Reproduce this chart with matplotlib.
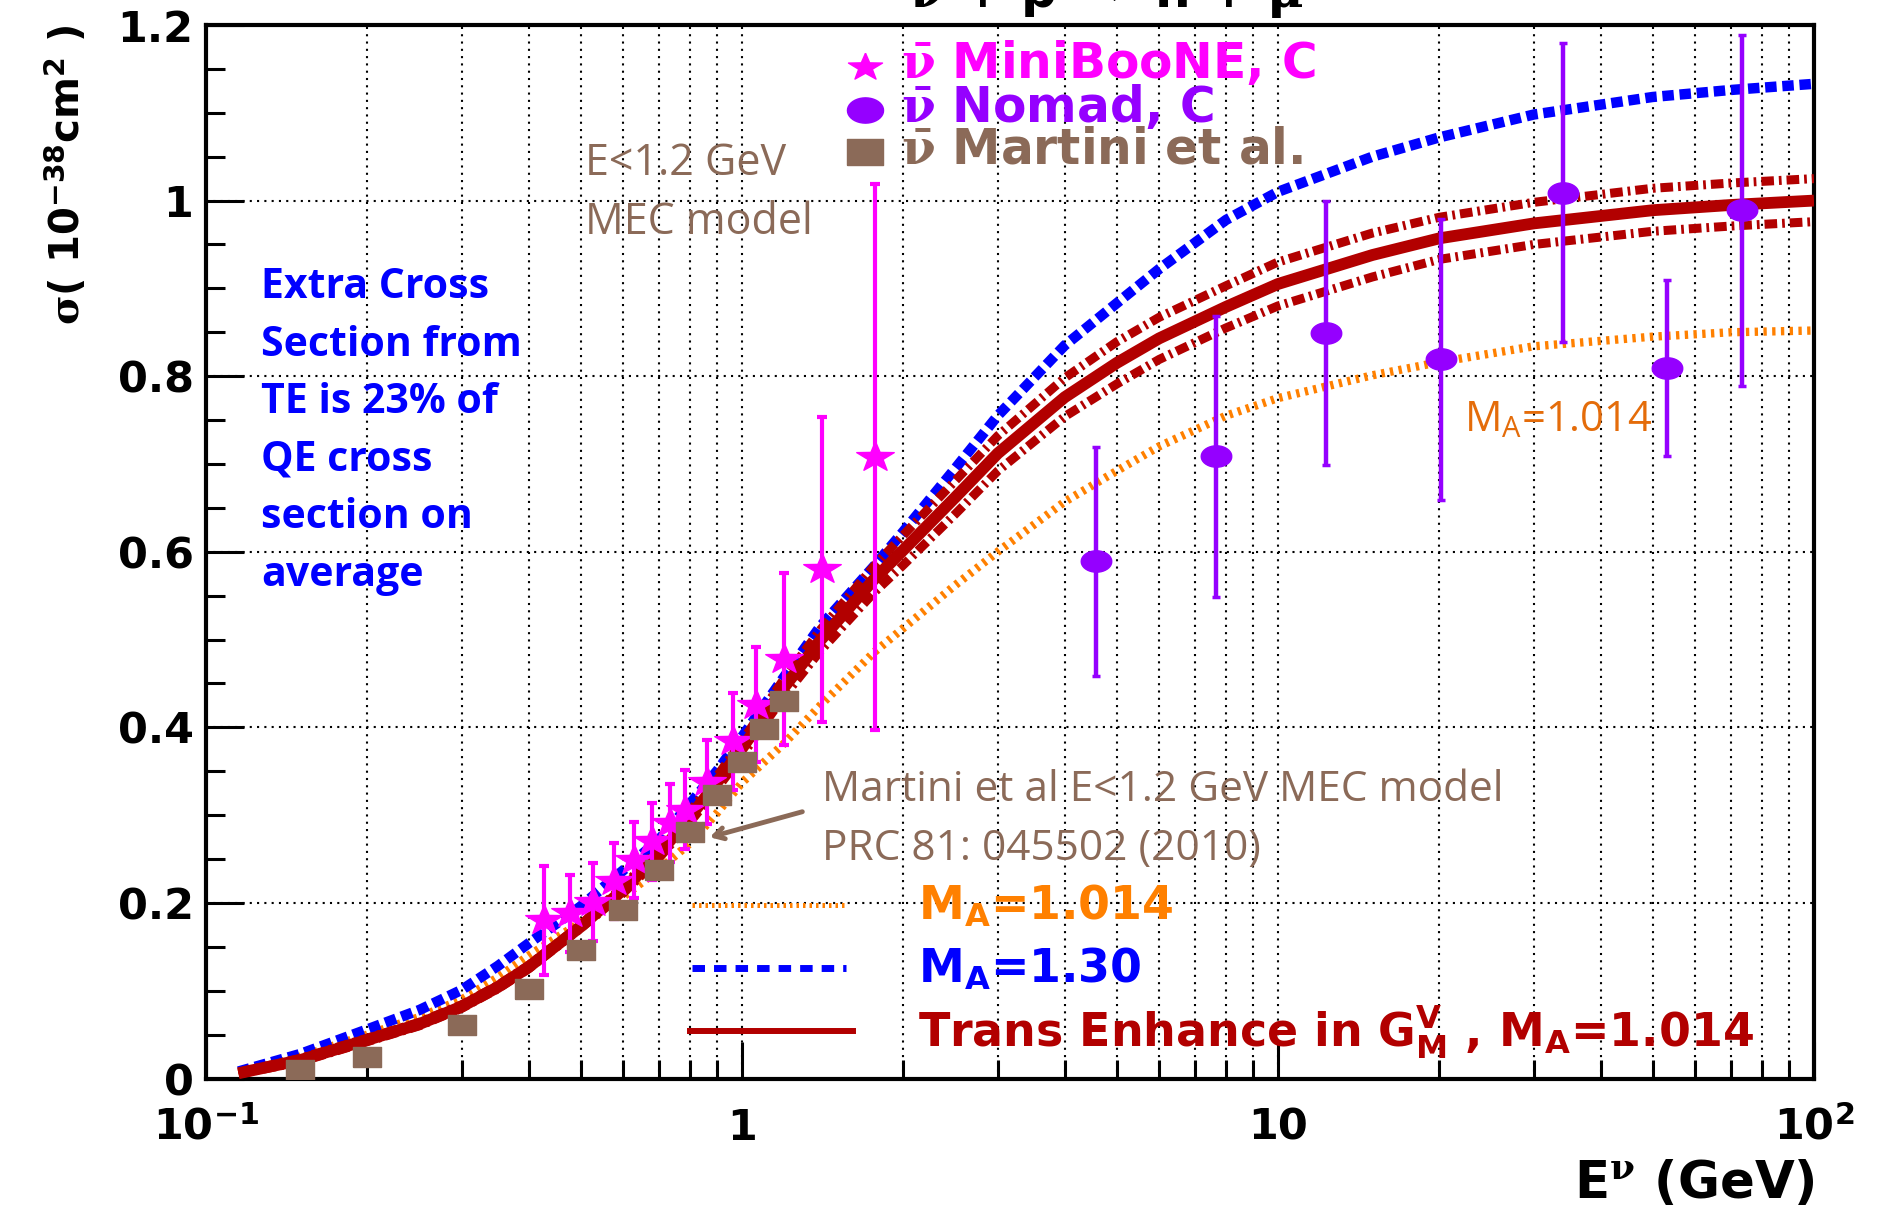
import numpy as np
import matplotlib.pyplot as plt
from matplotlib.lines import Line2D
from matplotlib.ticker import MultipleLocator, NullFormatter, LogLocator

W, H = 1879, 1207

# theory curves
E_curve = [0.115, 0.15, 0.2, 0.25, 0.3, 0.35, 0.4, 0.5, 0.6, 0.7,
           0.8, 0.9, 1.0, 1.2, 1.4, 1.76, 2.0, 2.5, 3.0, 4.0,
           5.0, 6.0, 8.0, 10, 15, 20, 30, 50, 70, 100]
sig_te = [0.006, 0.021, 0.044, 0.062, 0.082, 0.104, 0.127, 0.173, 0.215, 0.256,
          0.298, 0.338, 0.376, 0.446, 0.499, 0.568, 0.602, 0.662, 0.712, 0.776,
          0.815, 0.843, 0.879, 0.905, 0.938, 0.957, 0.974, 0.989, 0.995, 1.000]
sig_te_hi = [0.007, 0.023, 0.046, 0.064, 0.084, 0.106, 0.129, 0.175, 0.219, 0.261,
             0.304, 0.345, 0.384, 0.456, 0.511, 0.583, 0.619, 0.681, 0.732, 0.798,
             0.839, 0.867, 0.903, 0.930, 0.963, 0.981, 0.998, 1.014, 1.020, 1.025]
sig_te_lo = [0.005, 0.019, 0.042, 0.060, 0.080, 0.102, 0.125, 0.171, 0.211, 0.251,
             0.292, 0.331, 0.368, 0.436, 0.487, 0.553, 0.585, 0.643, 0.692, 0.754,
             0.791, 0.819, 0.855, 0.880, 0.913, 0.933, 0.950, 0.965, 0.971, 0.976]
sig_ma130 = [0.008, 0.028, 0.056, 0.078, 0.101, 0.128, 0.154, 0.196, 0.237, 0.272,
             0.313, 0.351, 0.389, 0.458, 0.515, 0.583, 0.623, 0.695, 0.755, 0.835,
             0.883, 0.922, 0.978, 1.010, 1.050, 1.072, 1.098, 1.118, 1.126, 1.133]
sig_ma1014 = [0.006, 0.025, 0.050, 0.070, 0.090, 0.115, 0.140, 0.178, 0.207, 0.238,
              0.268, 0.303, 0.337, 0.382, 0.425, 0.485, 0.513, 0.562, 0.600, 0.657,
              0.692, 0.720, 0.755, 0.775, 0.801, 0.816, 0.834, 0.845, 0.850, 0.852]

# MiniBooNE antineutrino, C
E_mb = [0.428, 0.478, 0.528, 0.578, 0.628, 0.680, 0.733, 0.783, 0.861, 0.962,
        1.064, 1.20, 1.41, 1.77]
sig_mb = [0.180, 0.188, 0.201, 0.225, 0.249, 0.270, 0.291, 0.306, 0.338, 0.384,
          0.426, 0.478, 0.580, 0.708]
err_mb = [0.062, 0.044, 0.044, 0.043, 0.043, 0.044, 0.044, 0.045, 0.048, 0.055,
          0.065, 0.098, 0.174, 0.311]

# Nomad antineutrino, C
E_nomad = [4.58, 7.67, 12.3, 20.1, 34.0, 53.1, 73.4]
sig_nomad = [0.589, 0.709, 0.849, 0.819, 1.009, 0.809, 0.989]
err_nomad = [0.13, 0.16, 0.15, 0.16, 0.17, 0.10, 0.20]

# Martini et al. MEC model
E_martini = [0.15, 0.2, 0.3, 0.4, 0.5, 0.6, 0.7, 0.8, 0.9, 1.0, 1.1, 1.2]
sig_martini = [0.010, 0.025, 0.061, 0.102, 0.146, 0.192, 0.238, 0.281, 0.323,
               0.361, 0.398, 0.430]

y_ticks = [0, 0.2, 0.4, 0.6, 0.8, 1.0, 1.2]
y_ticklabels = ['0', '0.2', '0.4', '0.6', '0.8', '1', '1.2']
x_ticks = [0.1, 1, 10, 100]
x_ticklabels = [r'10$^{\mathregular{-1}}$', '1', '10', r'10$^{\mathregular{2}}$']

note_lines = ['Extra Cross', 'Section from', 'TE is 23% of', 'QE cross',
              'section on', 'average']

ORANGE = '#FF8000'
BLUE = '#0000FF'
RED = '#B20000'
MAGENTA = '#FF00FF'
PURPLE = '#9500FF'
BROWN = '#8B6A58'


def fx(px):
    return px / W


def fy(py):
    return 1 - py / H


# marker shapes (the original picture is stretched sideways)
t = np.linspace(0, 2 * np.pi, 41)
ellipse = np.column_stack([np.cos(t), 0.7 * np.sin(t)])
ang = np.pi / 2 + np.arange(11) * np.pi / 5
rad = np.where(np.arange(11) % 2 == 0, 1.0, 0.4)
star = np.column_stack([rad * np.cos(ang), 0.8 * rad * np.sin(ang)])
rect = [(-1, -0.7), (1, -0.7), (1, 0.7), (-1, 0.7), (-1, -0.7)]

plt.rcParams['font.family'] = 'DejaVu Sans'
plt.rcParams['mathtext.fontset'] = 'custom'
plt.rcParams['mathtext.it'] = 'DejaVu Serif:bold'
plt.rcParams['mathtext.rm'] = 'DejaVu Serif:bold'
plt.rcParams['mathtext.bf'] = 'DejaVu Serif:bold'

fig = plt.figure(figsize=(W / 100, H / 100), dpi=100)
ax = fig.add_axes([fx(206), fy(1078.5), (1814 - 206) / W, (1078.5 - 25) / H])
ax.set_xscale('log')
ax.set_xlim(0.1, 100)
ax.set_ylim(0, 1.2)

# grid
ax.set_axisbelow(True)
ax.xaxis.grid(True, which='both', color='black', lw=1.5, ls=(0, (1, 2.5)))
ax.yaxis.grid(True, which='major', color='black', lw=1.5, ls=(0, (1, 2.5)))

# curves
ax.plot(E_curve, sig_ma1014, color=ORANGE, lw=6, dashes=(0.4, 0.65), zorder=2)
ax.plot(E_curve, sig_ma130, color=BLUE, lw=7.5, dashes=(1.1, 0.55), zorder=3)
ax.plot(E_curve, sig_te_hi, color=RED, lw=6.5, dashes=(1.4, 0.55, 0.3, 0.55), zorder=4)
ax.plot(E_curve, sig_te_lo, color=RED, lw=6.5, dashes=(1.4, 0.55, 0.3, 0.55), zorder=4)
ax.plot(E_curve, sig_te, color=RED, lw=8.5, solid_capstyle='butt', zorder=5)

# data
ax.errorbar(E_mb, sig_mb, yerr=err_mb, fmt='none', ecolor=MAGENTA,
            elinewidth=3, capsize=3.3, capthick=3, zorder=6)
ax.plot(E_mb, sig_mb, ls='none', marker=star, ms=27, color=MAGENTA, zorder=7)
ax.errorbar(E_nomad, sig_nomad, yerr=err_nomad, fmt='none', ecolor=PURPLE,
            elinewidth=3.2, capsize=3.2, capthick=2.5, zorder=6)
ax.plot(E_nomad, sig_nomad, ls='none', marker=ellipse, ms=22, color=PURPLE, zorder=7)
ax.plot(E_martini, sig_martini, ls='none', marker=rect, ms=20, color=BROWN, zorder=8)

# axes styling
ax.set_yticks(y_ticks)
ax.set_yticklabels(y_ticklabels)
ax.set_xticks(x_ticks)
ax.set_xticklabels(x_ticklabels)
ax.yaxis.set_minor_locator(MultipleLocator(0.05))
ax.xaxis.set_minor_locator(LogLocator(base=10, subs=np.arange(2, 10)))
ax.xaxis.set_minor_formatter(NullFormatter())
ax.tick_params(which='both', direction='in', top=False, right=False, width=2.2)
ax.tick_params(which='major', length=27)
ax.tick_params(which='minor', length=14)
ax.tick_params(axis='y', labelsize=31, pad=9)
ax.tick_params(axis='x', labelsize=31, pad=44)
for lab in ax.get_xticklabels() + ax.get_yticklabels():
    lab.set_fontweight('bold')
for lab in ax.get_xticklabels():
    lab.set_verticalalignment('baseline')
for sp in ax.spines.values():
    sp.set_linewidth(3)

# axis titles
fig.text(fx(66), fy(25), r'$\sigma$( 10$^{\mathregular{-38}}$cm$^{\mathregular{2}}$ )',
         rotation=90, ha='center', va='top', fontsize=29, fontweight='bold')
fig.text(fx(1815), fy(1198), r'E$^{\nu}$ (GeV)', ha='right', va='baseline',
         fontsize=37, fontweight='bold')

# title, mostly cut off by the top of the picture
fig.text(fx(1121), fy(8), r'$\bar{\nu}$ + p $\rightarrow$ n + $\mu^{+}$',
         ha='center', va='baseline', fontsize=36, fontweight='bold')

# upper legend
leg_rows = [(66.7, 78, star, 24.5, MAGENTA, r'$\bar{\nu}$ MiniBooNE, C'),
            (110, 122, ellipse, 26, PURPLE, r'$\bar{\nu}$ Nomad, C'),
            (151.7, 164, rect, 26, BROWN, r'$\bar{\nu}$ Martini et al.')]
for ym, yb, mk, ms, col, txt in leg_rows:
    fig.add_artist(Line2D([fx(865)], [fy(ym)], marker=mk, ms=ms, color=col, ls='none'))
    fig.text(fx(901), fy(yb), txt, color=col, fontsize=35, fontweight='bold',
             va='baseline')

# lower legend
fig.add_artist(Line2D([fx(692), fx(848)], [fy(904.5)] * 2, color=ORANGE, lw=3.6,
                      dashes=(0.5, 0.8)))
fig.add_artist(Line2D([fx(692), fx(846)], [fy(968)] * 2, color=BLUE, lw=5,
                      dashes=(1.8, 1.3)))
fig.add_artist(Line2D([fx(690), fx(853)], [fy(1031)] * 2, color=RED, lw=4.3))
fig.text(fx(918), fy(920), r'M$_{\mathregular{A}}$=1.014', color=ORANGE,
         fontsize=33, fontweight='bold', va='baseline')
fig.text(fx(918), fy(983), r'M$_{\mathregular{A}}$=1.30', color=BLUE,
         fontsize=33, fontweight='bold', va='baseline')
fig.text(fx(918), fy(1047),
         r'Trans Enhance in G$^{\mathregular{V}}_{\mathregular{M}}$ , M$_{\mathregular{A}}$=1.014',
         color=RED, fontsize=33, fontweight='bold', va='baseline')

# annotations
for i, line in enumerate(note_lines):
    fig.text(fx(261), fy(298 + i * 57.6), line, color=BLUE, fontsize=29.5,
             fontweight='bold', family='Open Sans', va='baseline')
fig.text(fx(585), fy(175), 'E<1.2 GeV', color=BROWN, fontsize=31,
         family='Open Sans', va='baseline')
fig.text(fx(585), fy(234), 'MEC model', color=BROWN, fontsize=31,
         family='Open Sans', va='baseline')
fig.text(fx(822), fy(801), 'Martini et al E<1.2 GeV MEC model', color=BROWN,
         fontsize=30.5, family='Open Sans', va='baseline')
fig.text(fx(822), fy(860), 'PRC 81: 045502 (2010)', color=BROWN,
         fontsize=30.5, family='Open Sans', va='baseline')
fig.text(fx(1464), fy(431), r'M$_{\mathregular{A}}$=1.014', color='#E46C0A',
         fontsize=30, family='Open Sans', va='baseline')
ax.annotate('', xy=(fx(707), fy(838)), xycoords='figure fraction',
            xytext=(fx(805), fy(811)), textcoords='figure fraction',
            arrowprops=dict(arrowstyle='->,head_length=0.7,head_width=0.4',
                            lw=3.5, color=BROWN))

fig.savefig('out.png', dpi=100)
